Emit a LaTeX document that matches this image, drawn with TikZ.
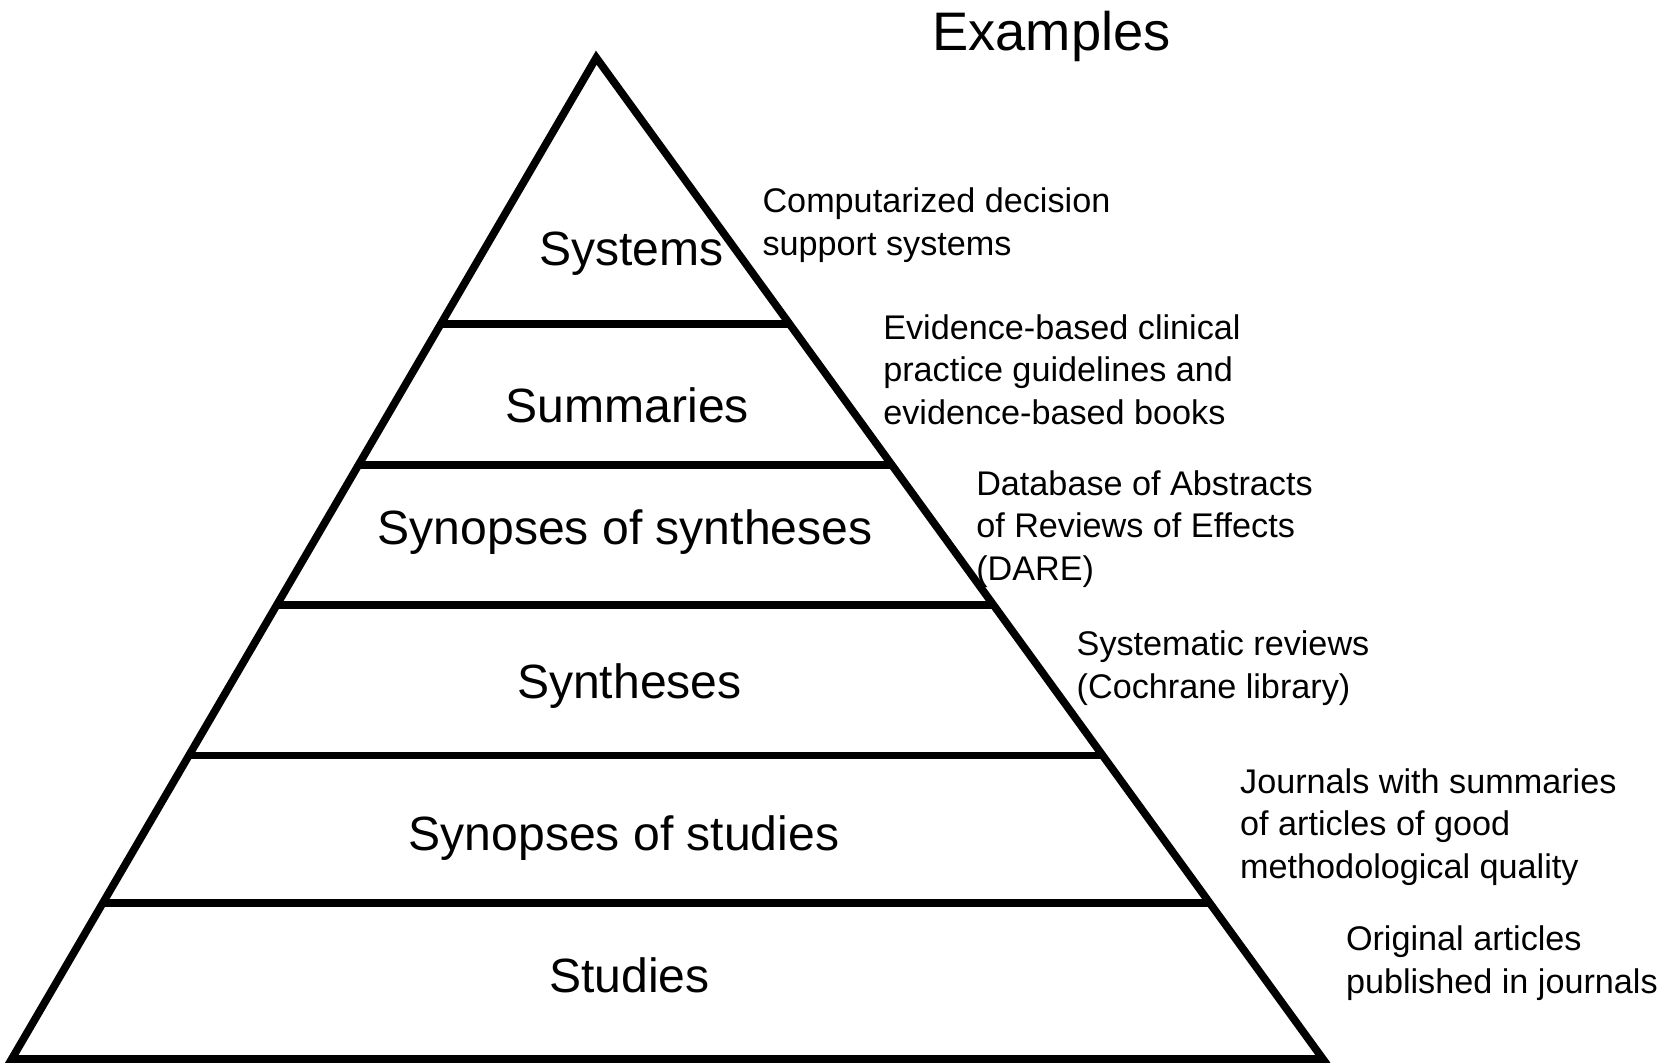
\documentclass[tikz,border=0pt]{standalone}
\usepackage{fontspec}
\setmainfont{Liberation Sans}
\usetikzlibrary{calc}

\begin{document}
\begin{tikzpicture}[x=0.5pt,y=-0.5pt,line width=3.6pt]
\tikzstyle{every node}=[inner sep=0pt]
\tikzstyle{tier}=[font=\fontsize{22.5}{27}\selectfont]
\tikzstyle{example}=[anchor=west,align=left,font=\fontsize{16}{20}\selectfont]
\useasboundingbox (0,0) rectangle (1560,994);

% pyramid
\coordinate (apex) at (558,54);
\coordinate (bl) at (11,991);
\coordinate (br) at (1238,991);
\draw (apex) -- (br) -- (bl) -- cycle;
\foreach \t in {0.2657,0.4066,0.5464,0.6969,0.8442}
  \draw ($(apex)!\t!(bl)$) -- ($(apex)!\t!(br)$);

% tiers
\node [tier] (systems) at (591,237) {Systems};
\node [tier] (summaries) at (587,379) {Summaries};
\node [tier] (synsyn) at (585,498) {Synopses of syntheses};
\node [tier] (syntheses) at (589,642) {Syntheses};
\node [tier] (synstud) at (584,784) {Synopses of studies};
\node [tier] (studies) at (589,913) {Studies};

% examples
\node [font=\fontsize{25.4}{30}\selectfont] (examples) at (984,34) {Examples};
\node [example] (ex1) at (710,211) {Computarized decision\\support systems};
\node [example] (ex2) at (823,346) {Evidence-based clinical\\practice guidelines and\\evidence-based books};
\node [example] (ex3) at (910,495) {Database of Abstracts\\of Reviews of Effects\\(DARE)};
\node [example] (ex4) at (1004,625) {Systematic reviews\\(Cochrane library)};
\node [example] (ex5) at (1157,774) {Journals with summaries\\of articles of good\\methodological quality};
\node [example] (ex6) at (1256,901) {Original articles\\published in journals};
\end{tikzpicture}
\end{document}
